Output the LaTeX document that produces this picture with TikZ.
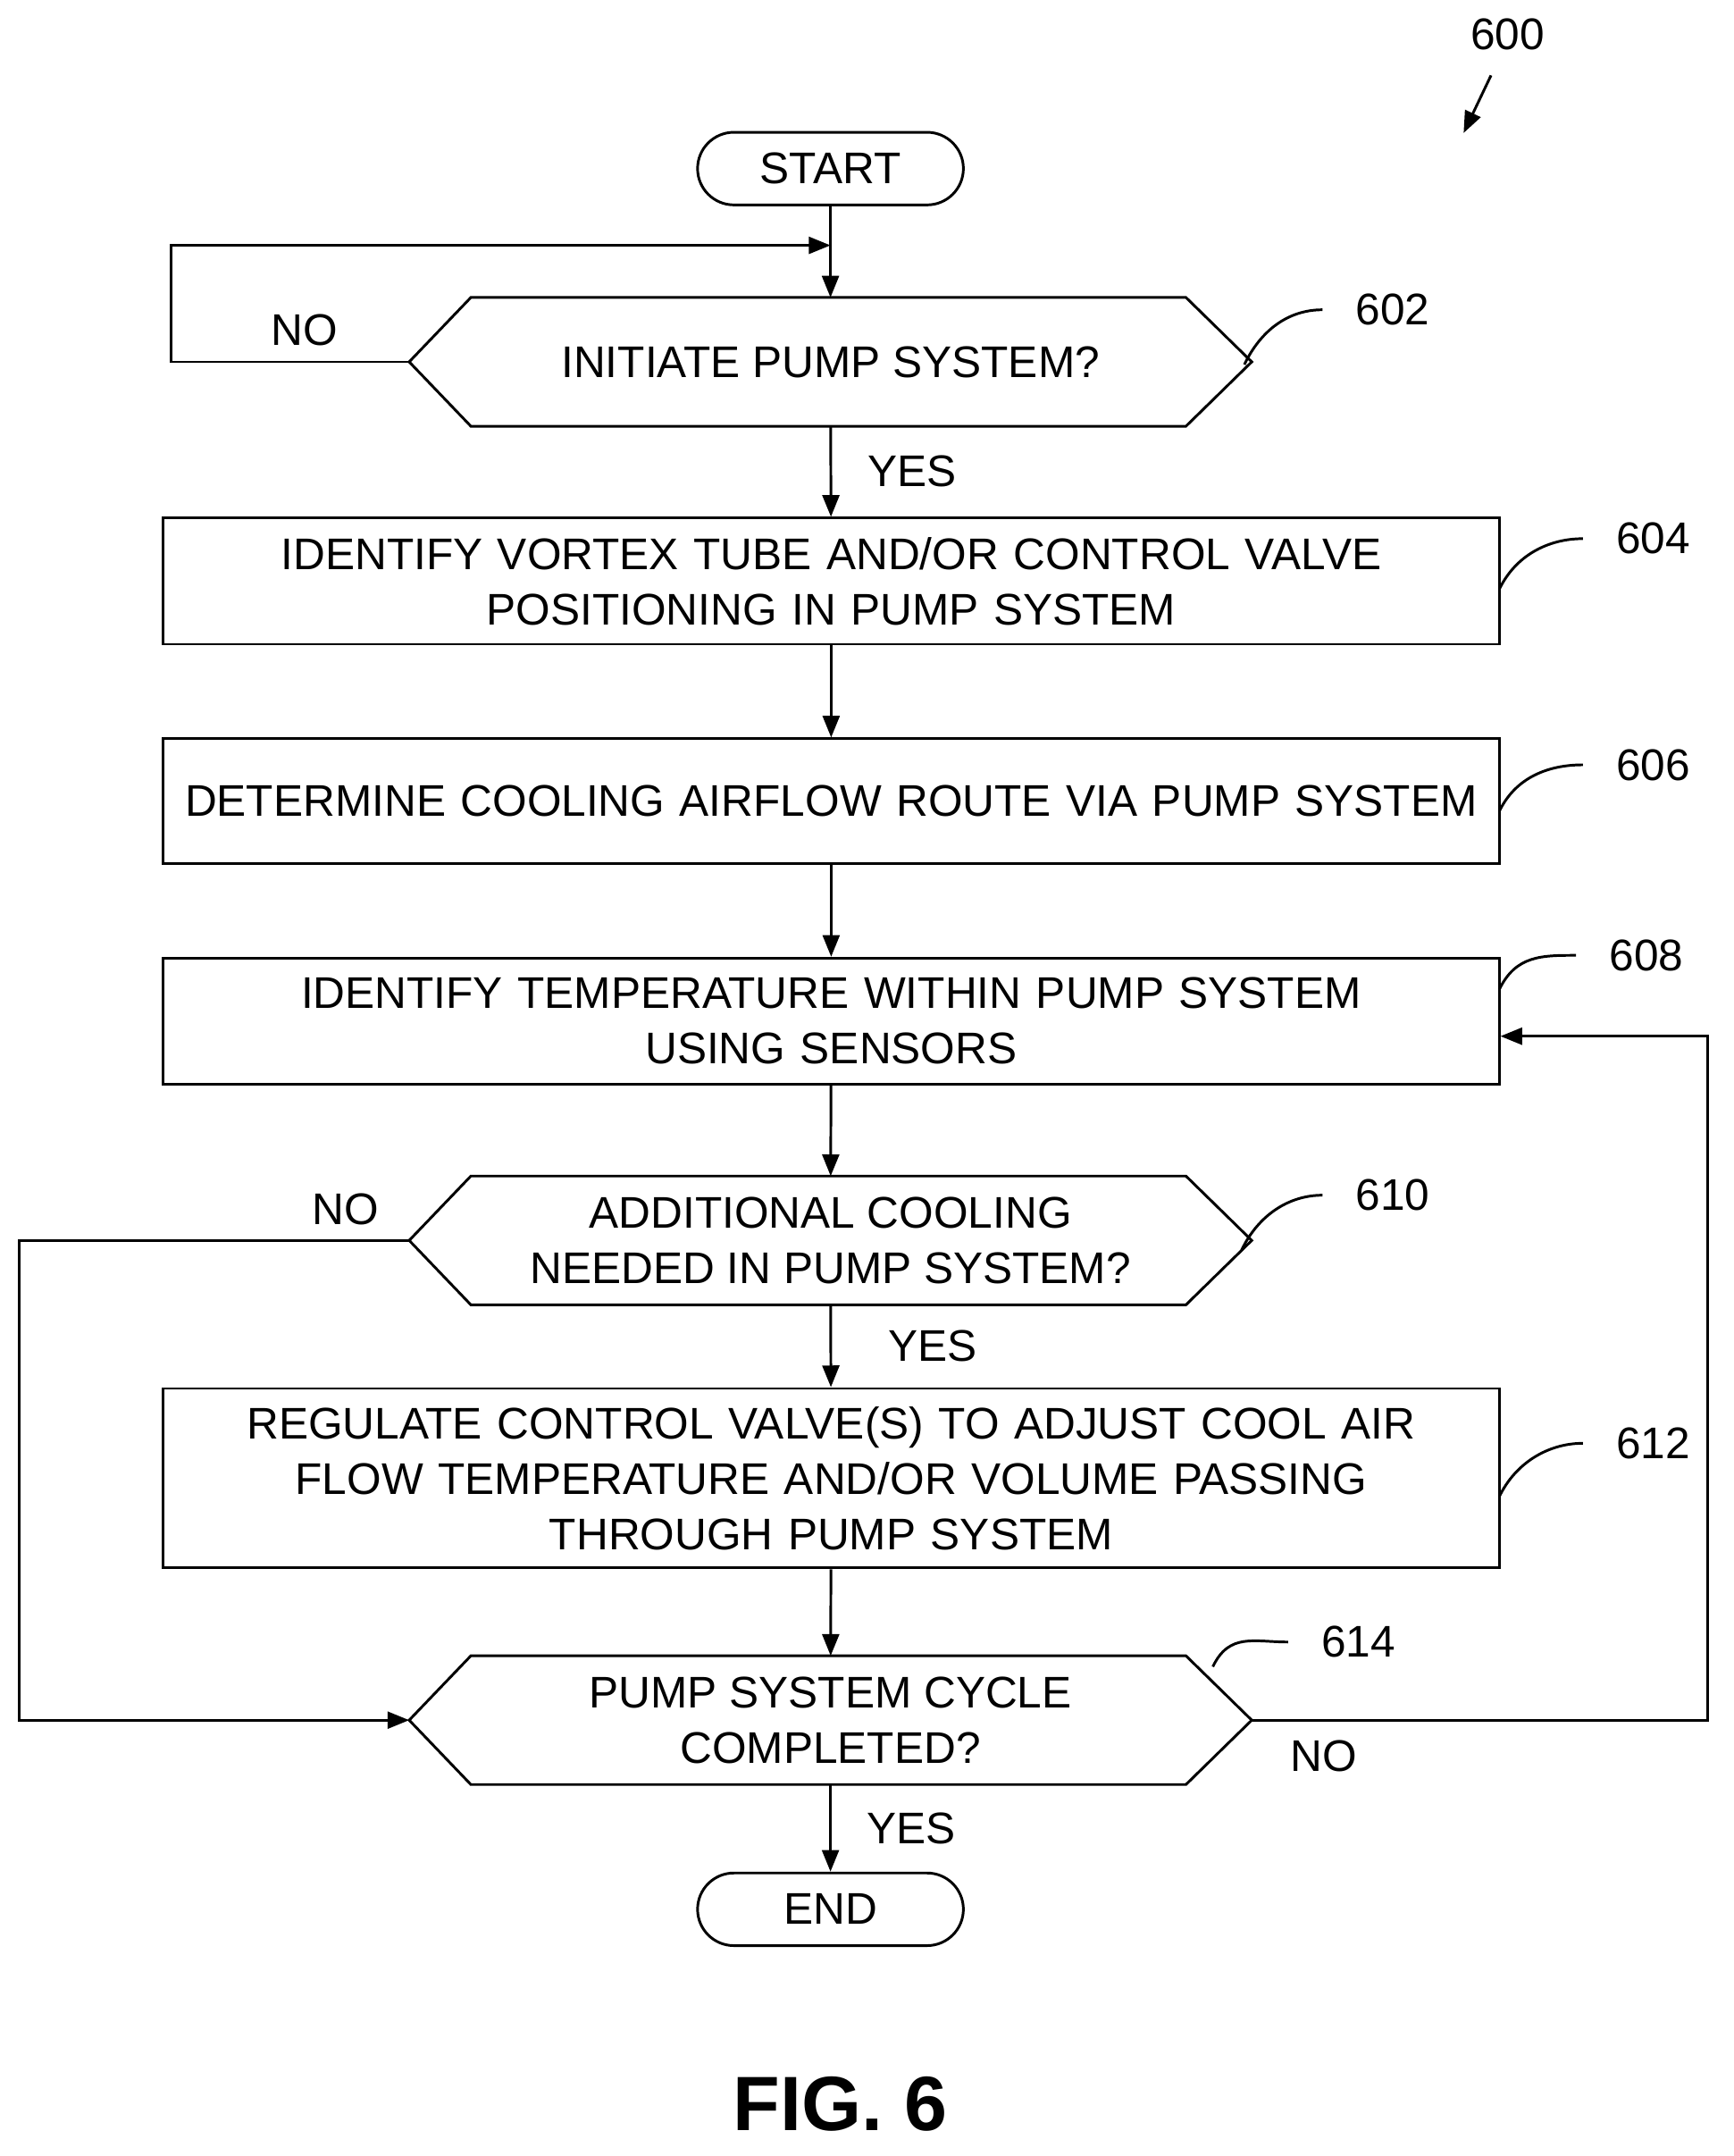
\documentclass[tikz,border=0pt]{standalone}
\usepackage{fontspec}
\setmainfont{Liberation Sans}
\usetikzlibrary{arrows.meta,calc,positioning}
\tikzstyle{every picture}=[line width=1.1pt]
\tikzstyle{box}=[draw, text width=19.3cm, align=center, minimum width=19.5cm,
  inner sep=0pt, font=\fontsize{18.4}{23}\selectfont]
\tikzstyle{hexa}=[minimum width=12.26cm, minimum height=1.84cm, inner sep=0pt,
  align=center, font=\fontsize{18.4}{23}\selectfont]
\tikzstyle{term}=[draw, rounded corners=0.53cm, minimum width=3.88cm,
  minimum height=1.06cm, font=\fontsize{18.4}{23}\selectfont]
\tikzstyle{line}=[draw, -{Triangle[length=9pt,width=7pt]}]
\tikzstyle{lbl}=[font=\fontsize{18.4}{23}\selectfont]
\newcommand{\hexdraw}[1]{%
  \draw (#1.west) -- ([xshift=0.9cm]#1.north west) -- ([xshift=-0.96cm]#1.north east)
    -- (#1.east) -- ([xshift=-0.96cm]#1.south east) -- ([xshift=0.9cm]#1.south west) -- cycle;}
% reference number: start of curve, end of curve, label name, text
\newcommand{\refnum}[4]{%
  \draw (#1) .. controls +(12,-25) and +(-25,0) .. (#2)
    node[lbl, anchor=west, xshift=0.35cm] (#3) {#4};}
\begin{document}
\begin{tikzpicture}[x=0.02cm,y=-0.02cm]
  \useasboundingbox (0,0) rectangle (1265,1573);

  % Terminals and steps
  \node[term] (start) at (606,123) {START};
  \node[hexa] (s602) at (606,264) {INITIATE PUMP SYSTEM?};
  \hexdraw{s602}
  \node[box, minimum height=1.84cm] (s604) at (606.5,424)
    {IDENTIFY VORTEX TUBE AND/OR CONTROL VALVE\\POSITIONING IN PUMP SYSTEM};
  \node[box, minimum height=1.82cm] (s606) at (606.5,584.5)
    {DETERMINE COOLING AIRFLOW ROUTE VIA PUMP SYSTEM};
  \node[box, minimum height=1.84cm] (s608) at (606.5,745)
    {IDENTIFY TEMPERATURE WITHIN PUMP SYSTEM\\USING SENSORS};
  \node[hexa] (s610) at (606,905) {ADDITIONAL COOLING\\NEEDED IN PUMP SYSTEM?};
  \hexdraw{s610}
  \node[box, minimum height=2.62cm] (s612) at (606.5,1078.5)
    {REGULATE CONTROL VALVE(S) TO ADJUST COOL AIR\\FLOW TEMPERATURE AND/OR VOLUME PASSING\\THROUGH PUMP SYSTEM};
  \node[hexa] (s614) at (606,1255) {PUMP SYSTEM CYCLE\\COMPLETED?};
  \hexdraw{s614}
  \node[term] (end) at (606,1393) {END};

  % Main flow
  \path[line] (start) -- (s602);
  \path[line] (s602) -- node[lbl, right=0.4cm] {YES} (s604);
  \path[line] (s604) -- (s606);
  \path[line] (s606) -- (s608);
  \path[line] (s608) -- (s610);
  \path[line] (s610) -- node[lbl, right=0.7cm] {YES} (s612);
  \path[line] (s612) -- (s614);
  \path[line] (s614) -- node[lbl, right=0.4cm] {YES} (end);

  % Loops
  \coordinate (j602) at (606,179);
  \path[line] (s602.west) -- (125,264) -- (125,179) -- (j602);
  \node[lbl] (no602) at (222,241) {NO};
  \path[line] (s610.west) -- (14,905) -- (14,1255) -- (s614.west);
  \node[lbl] (no610) at (252,882) {NO};
  \path[line] (s614.east) -- (1246,1255) -- (1246,756) -- (s608.east |- 0,756);
  \node[lbl] (no614) at (966,1281) {NO};

  % Reference numbers
  \coordinate (c602) at (965,226);
  \refnum{908,266}{c602}{r602}{602}
  \coordinate (c604) at (1155,393);
  \refnum{1094,430}{c604}{r604}{604}
  \coordinate (c606) at (1155,558);
  \refnum{1094,592}{c606}{r606}{606}
  \coordinate (c608) at (1150,697);
  \refnum{1094,722}{c608}{r608}{608}
  \coordinate (c610) at (965,872);
  \refnum{906,912}{c610}{r610}{610}
  \coordinate (c612) at (1155,1053);
  \refnum{1094,1092}{c612}{r612}{612}
  \coordinate (c614) at (940,1198);
  \refnum{885,1216}{c614}{r614}{614}
  \node[lbl] (r600) at (1100,25) {600};
  \draw[-{Triangle[length=9pt,width=7pt]}] (1088,55) -- (1068,97);

  \node[font=\bfseries\fontsize{32}{38}\selectfont] (fig) at (613,1535) {FIG. 6};
\end{tikzpicture}
\end{document}
